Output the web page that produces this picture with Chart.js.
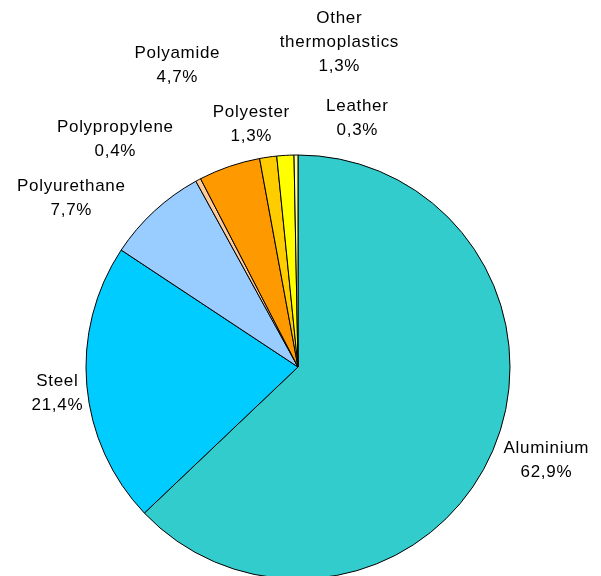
<!DOCTYPE html>
<html>
<head>
<meta charset="utf-8">
<script src="https://cdn.jsdelivr.net/npm/chart.js@4/dist/chart.umd.min.js"></script>
<style>
  html, body { margin: 0; padding: 0; background: #fff; }
  #wrap { width: 601px; height: 576px; position: relative; }
</style>
</head>
<body>
<div id="wrap"><canvas id="c" width="601" height="576"></canvas></div>
<script>
// ---- data ----
const categories = ["Aluminium", "Steel", "Polyurethane", "Polypropylene", "Polyamide", "Polyester", "Other thermoplastics", "Leather"];
const shares = [62.9, 21.4, 7.7, 0.4, 4.7, 1.3, 1.3, 0.3];
const sliceColors = ["#33CCCC", "#00CCFF", "#99CCFF", "#FFCC99", "#FF9900", "#FFCC00", "#FFFF00", "#FFFF99"];

// label block centres, relative to the pie centre (layout only)
const labelOffsets = [[248, 93], [-241, 26], [-227, -169], [-183, -228], [-121, -302], [-47, -243], [41, -325], [59, -249]];

const fmtPct = v => v.toFixed(1).replace('.', ',') + '%';

const labelPlugin = {
  id: 'outsideLabels',
  afterDatasetsDraw(chart) {
    const ctx = chart.ctx;
    const meta = chart.getDatasetMeta(0);
    ctx.save();
    ctx.font = '17px "Liberation Sans", Arial, sans-serif';
    const ls = 0.7;
    try { ctx.letterSpacing = ls + 'px'; } catch (e) {}
    ctx.fillStyle = '#000';
    ctx.textAlign = 'center';
    ctx.textBaseline = 'middle';
    const lineH = 24;
    meta.data.forEach((arc, i) => {
      const lines = categories[i].split(' ').concat([fmtPct(shares[i])]);
      const cx = arc.x + labelOffsets[i][0] + ls / 2;
      const cy = arc.y + labelOffsets[i][1];
      const top = cy - (lines.length - 1) * lineH / 2;
      lines.forEach((t, k) => ctx.fillText(t, cx, top + k * lineH));
    });
    ctx.restore();
  }
};

new Chart(document.getElementById('c'), {
  type: 'pie',
  data: {
    labels: categories,
    datasets: [{
      data: shares,
      backgroundColor: sliceColors,
      borderColor: '#000',
      borderWidth: 1,
      borderAlign: 'center'
    }]
  },
  options: {
    responsive: false,
    animation: false,
    radius: 212,
    layout: { padding: { left: 0, right: 5, top: 158, bottom: 0 } },
    plugins: {
      legend: { display: false },
      tooltip: { enabled: false }
    }
  },
  plugins: [labelPlugin]
});
</script>
</body>
</html>
